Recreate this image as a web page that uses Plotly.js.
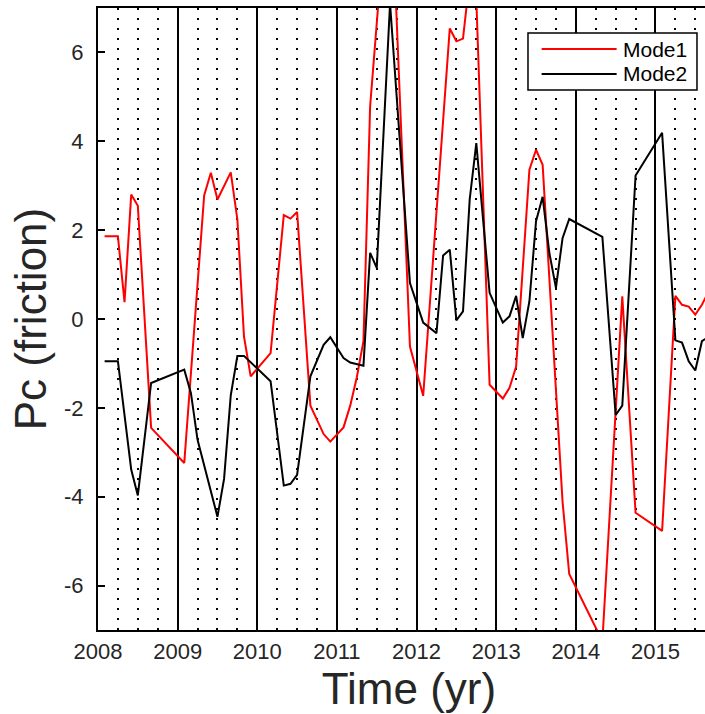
<!DOCTYPE html>
<html>
<head>
<meta charset="utf-8">
<script src="https://cdn.plot.ly/plotly-3.0.1.min.js"></script>
<style>
html,body{margin:0;padding:0;overflow:hidden;background:#fff;}
#chart{width:720px;height:714px;}
</style>
</head>
<body>
<div id="chart"></div>
<script>
// Mode1 (red)
const mode1Time = [2008.083,2008.25,2008.333,2008.417,2008.5,2008.667,2009.083,2009.333,2009.417,2009.5,2009.667,2009.75,2009.833,2009.917,2010.167,2010.333,2010.417,2010.5,2010.667,2010.833,2010.917,2011.083,2011.167,2011.25,2011.333,2011.417,2011.667,2011.917,2012.083,2012.333,2012.417,2012.5,2012.583,2012.667,2012.75,2012.917,2013.083,2013.167,2013.25,2013.417,2013.5,2013.583,2013.833,2013.917,2014.333,2014.583,2014.75,2015.083,2015.25,2015.333,2015.417,2015.5,2015.583,2015.667];
const mode1Value = [1.86,1.86,0.38,2.80,2.55,-2.45,-3.24,2.78,3.29,2.69,3.30,2.24,-0.39,-1.29,-0.77,2.34,2.26,2.41,-1.95,-2.59,-2.76,-2.44,-1.95,-1.31,-0.50,4.79,10.4,-0.62,-1.73,4.64,6.54,6.25,6.31,7.67,7.2,-1.48,-1.79,-1.55,-1.07,3.36,3.81,3.47,-4.11,-5.74,-7.25,0.51,-4.36,-4.77,0.52,0.32,0.28,0.10,0.32,0.62];

// Mode2 (black)
const mode2Time = [2008.083,2008.25,2008.417,2008.5,2008.667,2009.083,2009.167,2009.25,2009.5,2009.583,2009.667,2009.75,2009.833,2010.167,2010.333,2010.417,2010.5,2010.667,2010.833,2010.917,2011.083,2011.167,2011.333,2011.417,2011.5,2011.667,2011.917,2012.0,2012.083,2012.25,2012.333,2012.417,2012.5,2012.583,2012.667,2012.75,2012.917,2013.083,2013.167,2013.25,2013.333,2013.417,2013.5,2013.583,2013.667,2013.75,2013.833,2013.917,2014.333,2014.5,2014.583,2014.75,2015.083,2015.25,2015.333,2015.417,2015.5,2015.583,2015.667];
const mode2Value = [-0.95,-0.95,-3.39,-3.97,-1.44,-1.14,-1.67,-2.72,-4.45,-3.60,-1.72,-0.83,-0.83,-1.40,-3.75,-3.71,-3.51,-1.29,-0.58,-0.41,-0.88,-0.98,-1.05,1.49,1.15,7.1,0.81,0.36,-0.08,-0.32,1.43,1.56,-0.03,0.17,2.69,3.96,0.59,-0.08,0.06,0.52,-0.43,0.40,2.20,2.75,1.49,0.70,1.82,2.25,1.85,-2.16,-1.95,3.23,4.19,-0.48,-0.53,-0.95,-1.16,-0.50,-0.40];

const seriesNames = ['Mode1','Mode2'];
const seriesColors = ['#ff0000','#000000'];
const xTickVals = [2008,2009,2010,2011,2012,2013,2014,2015];
const xTickText = ['2008','2009','2010','2011','2012','2013','2014','2015'];
const yTickVals = [-6,-4,-2,0,2,4,6];
const yTickText = ['-6','-4','-2','0','2','4','6'];

const txt = '#262626';
const fontFam = 'Liberation Sans, Arial, Helvetica, sans-serif';

const traces = [
  {x: mode1Time, y: mode1Value, type:'scatter', mode:'lines', name: seriesNames[0],
   line:{color: seriesColors[0], width:2}, showlegend:false, hoverinfo:'skip'},
  {x: mode2Time, y: mode2Value, type:'scatter', mode:'lines', name: seriesNames[1],
   line:{color: seriesColors[1], width:2}, showlegend:false, hoverinfo:'skip'}
];

// legend box in paper coordinates
const lg = {x0:0.6913, x1:0.963, y0:0.868, y1:0.960, lx0:0.7132, lx1:0.8338, tx:0.8410, rows:[0.934,0.894]};

const shapes = [
  {type:'rect', xref:'paper', yref:'paper', x0:lg.x0, x1:lg.x1, y0:lg.y0, y1:lg.y1,
   line:{color:'#000', width:1.5}, fillcolor:'#fff', layer:'above'}
];
const annotations = [];
seriesNames.forEach((n,i)=>{
  shapes.push({type:'line', xref:'paper', yref:'paper', x0:lg.lx0, x1:lg.lx1, y0:lg.rows[i], y1:lg.rows[i],
    line:{color:seriesColors[i], width:2}, layer:'above'});
  annotations.push({xref:'paper', yref:'paper', x:lg.tx, y:lg.rows[i], xanchor:'left', yanchor:'middle',
    text:n, showarrow:false, font:{size:21, color:'#000', family:fontFam}});
});

const layout = {
  width:720, height:714,
  margin:{l:98, r:0, t:8, b:84},
  paper_bgcolor:'#fff', plot_bgcolor:'#fff',
  font:{family:fontFam, color:txt},
  showlegend:false,
  xaxis:{
    range:[2008, 2015.81], tickmode:'array', tickvals:xTickVals, ticktext:xTickText,
    ticks:'inside', ticklen:7, tickwidth:2, tickcolor:'#000',
    showline:true, linewidth:2, linecolor:'#000', mirror:'ticks',
    showgrid:true, gridcolor:'#000', gridwidth:2,
    minor:{dtick:0.25, tick0:2008, showgrid:true, gridcolor:'#000', gridwidth:2, griddash:'2px,8px', ticks:''},
    zeroline:false,
    tickfont:{size:22, color:txt},
    ticklabelstandoff:1,
    title:{text:'Time (yr)', font:{size:44, color:txt}, standoff:8}
  },
  yaxis:{
    range:[-7,7], tickmode:'array', tickvals:yTickVals, ticktext:yTickText,
    ticks:'inside', ticklen:7, tickwidth:2, tickcolor:'#000',
    showline:true, linewidth:2, linecolor:'#000',
    showgrid:false, zeroline:false,
    tickfont:{size:22, color:txt},
    ticklabelstandoff:8,
    title:{text:'Pc (friction)', font:{size:44, color:txt}, standoff:4}
  },
  shapes: shapes,
  annotations: annotations
};

Plotly.newPlot('chart', traces, layout, {staticPlot:true, displayModeBar:false});
</script>
</body>
</html>
